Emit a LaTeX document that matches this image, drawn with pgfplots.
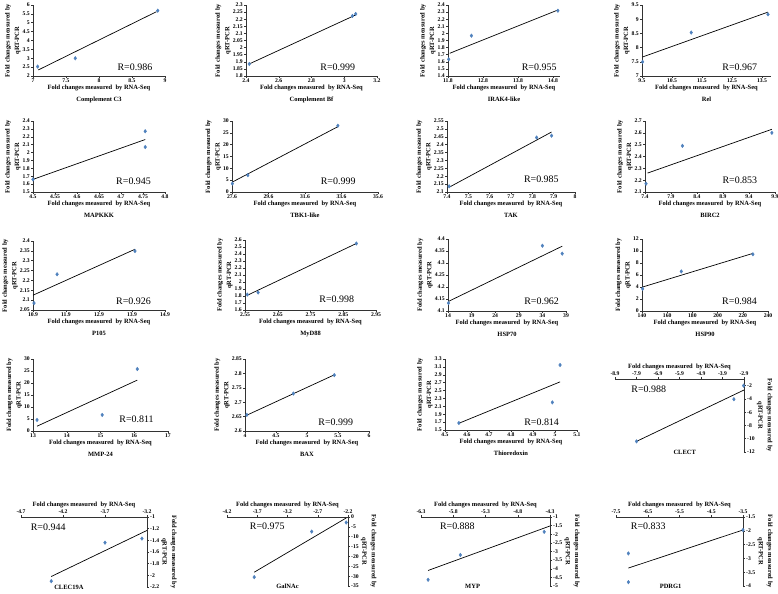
\documentclass[border=0pt]{standalone}
\usepackage{fontspec}
\setmainfont{Liberation Serif}
\usepackage{pgfplots}
\pgfplotsset{compat=1.18}

\definecolor{ptblue}{RGB}{79,129,189}
\newcommand{\rnaseq}{Fold changes measured \ by RNA-Seq}

\pgfplotsset{
  panel/.style={
    scale only axis, clip=false, anchor=south west,
    axis line style={-, black!80, line width=0.6pt},
    tick align=outside, major tick length=2pt,
    tick style={black!80, line width=0.5pt},
    tick label style={font=\fontsize{5.7}{6}\selectfont\bfseries, inner sep=1pt},
    xlabel style={font=\fontsize{6.5}{12}\selectfont\bfseries, align=center, inner sep=1pt},
    ylabel style={font=\fontsize{6.5}{9.5}\selectfont\bfseries, align=center, inner sep=1pt},
    ylabel={Fold changes measured by\\qRT-PCR},
    /pgf/number format/assume math mode=true,
    /pgf/number format/fixed,
    /pgf/number format/precision=3,
  },
  pos/.style={axis x line=bottom, axis y line=left, panel},
  neg/.style={axis x line=top, axis y line=right, panel,
    ylabel style={rotate=180}, xlabel={\rnaseq}},
  pts/.style={only marks, mark=diamond*, mark size=1.8pt, color=ptblue},
  fit/.style={black, line width=0.7pt, no marks},
}
\tikzset{
  rval/.style={font=\fontsize{10}{10}\selectfont},
  gname/.style={font=\fontsize{6.5}{7}\selectfont\bfseries},
}

\begin{document}
\begin{tikzpicture}
\useasboundingbox (0,0) rectangle (778bp,594bp);

% ---- row 1 ----
\begin{axis}[pos, at={(33bp,518bp)}, width=132bp, height=71bp,
  xmin=7, xmax=9, ymin=2, ymax=6,
  xtick={7,7.5,8,8.5,9}, ytick={2,2.5,3,3.5,4,4.5,5,5.5,6},
  xlabel={\rnaseq\\Complement C3}]
\addplot[pts] coordinates {(7.07,2.53) (7.64,3.0) (8.89,5.68)};
\addplot[fit] coordinates {(7.08,2.34) (8.87,5.62)};
\node[rval, anchor=east] at (rel axis cs:0.93,0.13) {R=0.986};
\end{axis}

\begin{axis}[pos, at={(246bp,518bp)}, width=131bp, height=71bp,
  xmin=2.4, xmax=3.2, ymin=1.8, ymax=2.3,
  xtick={2.4,2.6,2.8,3,3.2},
  ytick={1.8,1.85,1.9,1.95,2,2.05,2.1,2.15,2.2,2.25,2.3},
  xlabel={\rnaseq\\Complement Bf}]
\addplot[pts] coordinates {(2.42,1.885) (3.05,2.223) (3.07,2.237)};
\addplot[fit] coordinates {(2.42,1.885) (3.07,2.23)};
\node[rval, anchor=east] at (rel axis cs:0.86,0.13) {R=0.999};
\end{axis}

\begin{axis}[pos, at={(448bp,518bp)}, width=112bp, height=71bp,
  xmin=11.8, xmax=15, ymin=1.4, ymax=2.4,
  xtick={11.8,12.8,13.8,14.8},
  ytick={1.4,1.5,1.6,1.7,1.8,1.9,2,2.1,2.2,2.3,2.4},
  xlabel={\rnaseq\\IRAK4-like}]
\addplot[pts] coordinates {(11.82,1.635) (12.47,1.968) (14.94,2.32)};
\addplot[fit] coordinates {(11.85,1.72) (14.94,2.33)};
\node[rval, anchor=east] at (rel axis cs:1.0,0.13) {R=0.955};
\end{axis}

\begin{axis}[pos, at={(642bp,518bp)}, width=129bp, height=71bp,
  xmin=9.5, xmax=13.8, ymin=7, ymax=9.5,
  xtick={9.5,10.5,11.5,12.5,13.5}, ytick={7,7.5,8,8.5,9,9.5},
  xlabel={\rnaseq\\Rel}]
\addplot[pts] coordinates {(9.52,7.5) (11.14,8.53) (13.7,9.17)};
\addplot[fit] coordinates {(9.52,7.67) (13.7,9.25)};
\node[rval, anchor=east] at (rel axis cs:0.92,0.13) {R=0.967};
\end{axis}

% ---- row 2 ----
\begin{axis}[pos, at={(33bp,402bp)}, width=132bp, height=71bp,
  xmin=4.5, xmax=4.8, ymin=1.5, ymax=2.4,
  xtick={4.5,4.55,4.6,4.65,4.7,4.75,4.8},
  ytick={1.5,1.6,1.7,1.8,1.9,2,2.1,2.2,2.3,2.4},
  xlabel={\rnaseq\\MAPKKK}]
\addplot[pts] coordinates {(4.5,1.66) (4.755,2.27) (4.755,2.07)};
\addplot[fit] coordinates {(4.5,1.66) (4.755,2.165)};
\node[rval, anchor=east] at (rel axis cs:0.92,0.155) {R=0.945};
\end{axis}

\begin{axis}[pos, at={(232bp,402bp)}, width=146bp, height=71bp,
  xmin=27.6, xmax=35.6, ymin=0, ymax=30,
  xtick={27.6,29.6,31.6,33.6,35.6}, ytick={0,5,10,15,20,25,30},
  xlabel={\rnaseq\\TBK1-like}]
\addplot[pts] coordinates {(27.62,3.55) (28.47,7.1) (33.4,28.0)};
\addplot[fit] coordinates {(27.62,4.2) (33.4,27.6)};
\node[rval, anchor=east] at (rel axis cs:0.87,0.155) {R=0.999};
\end{axis}

\begin{axis}[pos, at={(447bp,402bp)}, width=128bp, height=71bp,
  xmin=7.4, xmax=8, ymin=2.1, ymax=2.55,
  xtick={7.4,7.5,7.6,7.7,7.8,7.9,8},
  ytick={2.1,2.15,2.2,2.25,2.3,2.35,2.4,2.45,2.5,2.55},
  xlabel={\rnaseq\\TAK}]
\addplot[pts] coordinates {(7.41,2.136) (7.82,2.445) (7.89,2.457)};
\addplot[fit] coordinates {(7.41,2.13) (7.89,2.48)};
\node[rval, anchor=east] at (rel axis cs:0.90,0.18) {R=0.985};
\end{axis}

\begin{axis}[pos, at={(645bp,402bp)}, width=130bp, height=71bp,
  xmin=7.4, xmax=9.9, ymin=2.1, ymax=2.7,
  xtick={7.4,7.9,8.4,8.9,9.4,9.9}, ytick={2.1,2.2,2.3,2.4,2.5,2.6,2.7},
  xlabel={\rnaseq\\BIRC2}]
\addplot[pts] coordinates {(7.42,2.17) (8.12,2.49) (9.84,2.6)};
\addplot[fit] coordinates {(7.45,2.26) (9.84,2.63)};
\node[rval, anchor=east] at (rel axis cs:0.89,0.17) {R=0.853};
\end{axis}

% ---- row 3 ----
\begin{axis}[pos, at={(33bp,284bp)}, width=132bp, height=69bp,
  xmin=10.9, xmax=14.9, ymin=2.05, ymax=2.4,
  xtick={10.9,11.9,12.9,13.9,14.9},
  ytick={2.05,2.1,2.15,2.2,2.25,2.3,2.35,2.4},
  xlabel={\rnaseq\\P105}]
\addplot[pts] coordinates {(10.93,2.085) (11.63,2.231) (13.99,2.349)};
\addplot[fit] coordinates {(10.9,2.125) (13.99,2.358)};
\node[rval, anchor=east] at (rel axis cs:0.92,0.13) {R=0.926};
\end{axis}

\begin{axis}[pos, at={(245bp,284bp)}, width=131bp, height=70bp,
  xmin=2.55, xmax=2.95, ymin=1.6, ymax=2.6,
  xtick={2.55,2.65,2.75,2.85,2.95},
  ytick={1.6,1.7,1.8,1.9,2,2.1,2.2,2.3,2.4,2.5,2.6},
  xlabel={\rnaseq\\MyD88}]
\addplot[pts] coordinates {(2.557,1.82) (2.59,1.85) (2.89,2.55)};
\addplot[fit] coordinates {(2.557,1.81) (2.89,2.55)};
\node[rval, anchor=east] at (rel axis cs:0.86,0.16) {R=0.998};
\end{axis}

\begin{axis}[pos, at={(448bp,283bp)}, width=118bp, height=72bp,
  xmin=14, xmax=39, ymin=4.1, ymax=4.4,
  xtick={14,19,24,29,34,39},
  ytick={4.1,4.15,4.2,4.25,4.3,4.35,4.4},
  xlabel={\rnaseq\\HSP70}]
\addplot[pts] coordinates {(14.1,4.133) (34.0,4.372) (38.2,4.339)};
\addplot[fit] coordinates {(14.1,4.14) (38.2,4.37)};
\node[rval, anchor=east] at (rel axis cs:0.97,0.14) {R=0.962};
\end{axis}

\begin{axis}[pos, at={(642bp,283bp)}, width=126bp, height=72bp,
  xmin=140, xmax=240, ymin=0, ymax=12,
  xtick={140,160,180,200,220,240}, ytick={0,2,4,6,8,10,12},
  xlabel={\rnaseq\\HSP90}]
\addplot[pts] coordinates {(140.5,3.7) (171.2,6.6) (228,9.45)};
\addplot[fit] coordinates {(140.5,4.0) (228,9.6)};
\node[rval, anchor=east] at (rel axis cs:0.94,0.14) {R=0.984};
\end{axis}

% ---- row 4 ----
\begin{axis}[pos, at={(33bp,163bp)}, width=135bp, height=72bp,
  xmin=13, xmax=17, ymin=0, ymax=30,
  xtick={13,14,15,16,17}, ytick={0,5,10,15,20,25,30},
  xlabel={\rnaseq\\MMP-24}]
\addplot[pts] coordinates {(13.12,4.6) (15.05,6.7) (16.09,25.8)};
\addplot[fit] coordinates {(13.12,2.0) (16.09,21.2)};
\node[rval, anchor=east] at (rel axis cs:0.92,0.17) {R=0.811};
\end{axis}

\begin{axis}[pos, at={(245bp,163bp)}, width=124bp, height=72bp,
  xmin=4, xmax=6, ymin=2.6, ymax=2.85,
  xtick={4,4.5,5,5.5,6}, ytick={2.6,2.65,2.7,2.75,2.8,2.85},
  xlabel={\rnaseq\\BAX}]
\addplot[pts] coordinates {(4.03,2.656) (4.78,2.73) (5.44,2.794)};
\addplot[fit] coordinates {(4.03,2.655) (5.44,2.795)};
\node[rval, anchor=east] at (rel axis cs:0.90,0.125) {R=0.999};
\end{axis}

\begin{axis}[pos, at={(445bp,164bp)}, width=132bp, height=71bp,
  xmin=4.5, xmax=5.1, ymin=1.5, ymax=3.3,
  xtick={4.5,4.6,4.7,4.8,4.9,5,5.1},
  ytick={1.5,1.7,1.9,2.1,2.3,2.5,2.7,2.9,3.1,3.3},
  xlabel={\rnaseq\\Thioredoxin}]
\addplot[pts] coordinates {(4.563,1.677) (4.988,2.2) (5.023,3.148)};
\addplot[fit] coordinates {(4.563,1.67) (5.023,2.72)};
\node[rval, anchor=east] at (rel axis cs:0.89,0.11) {R=0.814};
\end{axis}

\begin{axis}[neg, at={(615bp,142bp)}, width=129bp, height=73bp,
  xmin=-8.9, xmax=-2.9, ymin=-12, ymax=-1,
  xtick={-8.9,-7.9,-6.9,-5.9,-4.9,-3.9,-2.9},
  ytick={-12,-10,-8,-6,-4,-2}]
\addplot[pts] coordinates {(-7.9,-10.4) (-3.37,-4.04) (-2.92,-2.0)};
\addplot[fit] coordinates {(-7.9,-10.4) (-2.9,-2.66)};
\node[rval, anchor=west] at (rel axis cs:0.10,0.86) {R=0.988};
\node[gname] at (rel axis cs:0.54,0) {CLECT};
\end{axis}

% ---- row 5 ----
\begin{axis}[neg, at={(21bp,7bp)}, width=126bp, height=70bp,
  xmin=-4.7, xmax=-3.2, ymin=-2.2, ymax=-1,
  xtick={-4.7,-4.2,-3.7,-3.2},
  ytick={-2.2,-2,-1.8,-1.6,-1.4,-1.2,-1}]
\addplot[pts] coordinates {(-4.34,-2.1) (-3.7,-1.44) (-3.26,-1.37)};
\addplot[fit] coordinates {(-4.34,-2.02) (-3.2,-1.23)};
\node[rval, anchor=west] at (rel axis cs:0.05,0.86) {R=0.944};
\node[gname] at (rel axis cs:0.38,0) {CLEC19A};
\end{axis}

\begin{axis}[neg, at={(227bp,8bp)}, width=121bp, height=69bp,
  xmin=-4.2, xmax=-2.2, ymin=-35, ymax=0,
  xtick={-4.2,-3.7,-3.2,-2.7,-2.2},
  ytick={-35,-30,-25,-20,-15,-10,-5,0}]
\addplot[pts] coordinates {(-3.75,-30.5) (-2.8,-7.4) (-2.23,-2.8)};
\addplot[fit] coordinates {(-3.75,-28.0) (-2.23,-0.5)};
\node[rval, anchor=west] at (rel axis cs:0.16,0.86) {R=0.975};
\node[gname] at (rel axis cs:0.5,0) {GalNAc};
\end{axis}

\begin{axis}[neg, at={(421bp,8bp)}, width=129bp, height=69bp,
  xmin=-6.3, xmax=-4.3, ymin=-5, ymax=-1,
  xtick={-6.3,-5.8,-5.3,-4.8,-4.3},
  ytick={-5,-4.5,-4,-3.5,-3,-2.5,-2,-1.5,-1}]
\addplot[pts] coordinates {(-6.19,-4.64) (-5.69,-3.2) (-4.39,-1.86)};
\addplot[fit] coordinates {(-6.19,-4.1) (-4.3,-1.52)};
\node[rval, anchor=west] at (rel axis cs:0.12,0.86) {R=0.888};
\node[gname] at (rel axis cs:0.4,0) {MYP};
\end{axis}

\begin{axis}[neg, at={(616bp,8bp)}, width=127bp, height=69bp,
  xmin=-7.5, xmax=-3.5, ymin=-4, ymax=-1.5,
  xtick={-7.5,-6.5,-5.5,-4.5,-3.5},
  ytick={-4,-3.5,-3,-2.5,-2,-1.5}]
\addplot[pts] coordinates {(-7.11,-2.82) (-7.11,-3.86) (-3.5,-1.97)};
\addplot[fit] coordinates {(-7.11,-3.35) (-3.5,-1.97)};
\node[rval, anchor=west] at (rel axis cs:0.09,0.86) {R=0.833};
\node[gname] at (rel axis cs:0.43,0) {PDRG1};
\end{axis}
\end{tikzpicture}
\end{document}
